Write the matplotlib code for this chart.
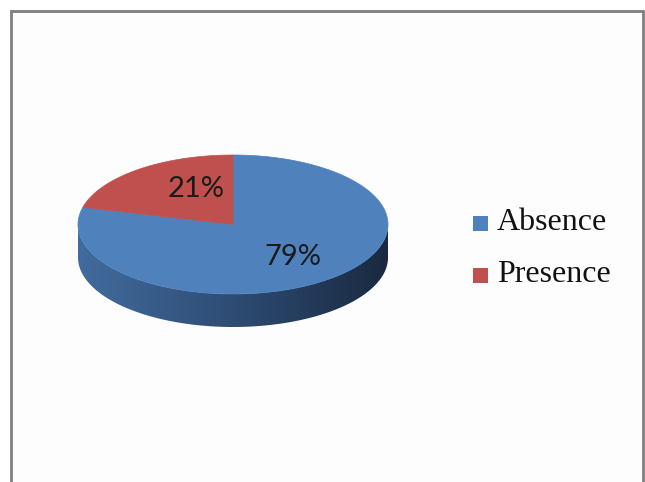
import numpy as np
import matplotlib
matplotlib.use("Agg")
import matplotlib.pyplot as plt
from matplotlib.patches import Polygon, Rectangle
from matplotlib.colors import LinearSegmentedColormap

categories = ["Absence", "Presence"]
values = [79, 21]
pct_labels = ["79%", "21%"]
top_colors = ["#4F81BD", "#C0504D"]
side_left = ["#426C9E", "#9A3E3B"]
side_right = ["#1A2940", "#5A2220"]

W, H = 645, 482
fig = plt.figure(figsize=(W / 100, H / 100), dpi=100)
ax = fig.add_axes([0, 0, 1, 1])
ax.set_xlim(0, W)
ax.set_ylim(H, 0)
ax.axis("off")

# chart frame
ax.add_patch(Rectangle((11, 11), 632, 480, facecolor="#FDFDFD",
                       edgecolor="#7F7F7F", linewidth=2.0, zorder=0))

cx, cy, a, b, depth = 233, 224.5, 155, 69.5, 33

def pt(theta_deg):
    t = np.radians(theta_deg)
    return cx + a * np.sin(t), cy - b * np.cos(t)

total = float(sum(values))
starts = np.cumsum([0] + values[:-1]) / total * 360
ends = np.cumsum(values) / total * 360

# side walls (front half: theta 90..270) with horizontal gradient
for i, (s, e) in enumerate(zip(starts, ends)):
    lo, hi = max(s, 90), min(e, 270)
    if lo >= hi:
        continue
    ths = np.linspace(lo, hi, 300)
    upper = [pt(t) for t in ths]
    lower = [(x, y + depth) for x, y in upper[::-1]]
    poly = Polygon(upper + lower, closed=True, facecolor="none",
                   edgecolor="none", zorder=2)
    ax.add_patch(poly)
    cmap = LinearSegmentedColormap.from_list("side%d" % i,
                                             [side_left[i], "#2E4C74", side_right[i]]
                                             if i == 0 else [side_left[i], side_right[i]])
    grad = np.linspace(0, 1, 256)[None, :]
    xs = [p[0] for p in upper]
    im = ax.imshow(grad, cmap=cmap, aspect="auto",
                   extent=[min(xs), max(xs), cy + b + depth + 2, cy - 2],
                   zorder=2, interpolation="bilinear")
    im.set_clip_path(poly)

# top faces
for i, (s, e) in enumerate(zip(starts, ends)):
    ths = np.linspace(s, e, 300)
    pts = [(cx, cy)] + [pt(t) for t in ths]
    ax.add_patch(Polygon(pts, closed=True, facecolor=top_colors[i],
                         edgecolor=top_colors[i], linewidth=0.5, zorder=3))

ax.set_xlim(0, W)
ax.set_ylim(H, 0)

# percentage labels
label_pos = [(293, 257), (196, 189)]
for (x, y), txt in zip(label_pos, pct_labels):
    ax.text(x, y, txt, fontsize=21, family="Lato", color="#1A1A1A",
            ha="center", va="center", zorder=5)

# legend
leg_y = [223, 275]
for i, cat in enumerate(categories):
    ax.add_patch(Rectangle((473, leg_y[i] - 7.5), 15, 15, facecolor=top_colors[i],
                           edgecolor="none", zorder=5))
    ax.text(497, leg_y[i] + 7.5, cat, fontsize=23, family="Liberation Serif",
            color="#111111", ha="left", va="baseline", zorder=5)

fig.savefig("out.png", dpi=100)
